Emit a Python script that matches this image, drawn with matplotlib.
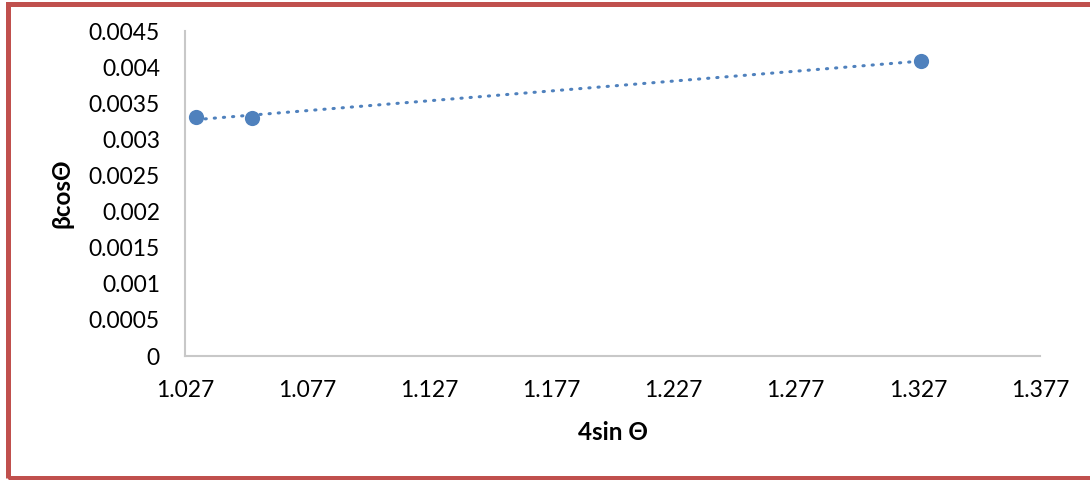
import numpy as np
import matplotlib
matplotlib.use("Agg")
import matplotlib.pyplot as plt
from matplotlib.patches import Rectangle

# Williamson-Hall data
four_sin_theta = [1.0315, 1.0544, 1.3281]
beta_cos_theta = [0.003310, 0.003296, 0.004086]

x_ticks = [1.027, 1.077, 1.127, 1.177, 1.227, 1.277, 1.327, 1.377]
y_ticks = [0, 0.0005, 0.001, 0.0015, 0.002, 0.0025, 0.003, 0.0035, 0.004, 0.0045]
y_tick_labels = ["0", "0.0005", "0.001", "0.0015", "0.002", "0.0025", "0.003", "0.0035", "0.004", "0.0045"]

plt.rcParams['font.family'] = ['Lato', 'DejaVu Sans']

blue = "#4F81BD"
fig = plt.figure(figsize=(10.9, 4.8), dpi=100)
ax = fig.add_axes([0.1697, 0.2583, 0.7844, 0.6771])

x = np.array(four_sin_theta)
y = np.array(beta_cos_theta)

# linear trendline over the data range
m, c = np.polyfit(x, y, 1)
xt = np.array([x.min(), x.max()])
ax.plot(xt, m * xt + c, color=blue, linewidth=2.2, linestyle=(0, (0.4, 2.6)),
        dash_capstyle="round", zorder=2)

ax.scatter(x, y, s=120, color=blue, zorder=3, linewidths=0)

ax.set_xlim(x_ticks[0], x_ticks[-1])
ax.set_ylim(y_ticks[0], y_ticks[-1])
ax.set_xticks(x_ticks)
ax.set_xticklabels([f"{v:.3f}" for v in x_ticks])
ax.set_yticks(y_ticks)
ax.set_yticklabels(y_tick_labels)
ax.tick_params(axis="both", length=0, labelsize=16.5, colors="black")
ax.tick_params(axis="x", pad=17)
ax.tick_params(axis="y", pad=18)

for side in ("top", "right"):
    ax.spines[side].set_visible(False)
for side in ("left", "bottom"):
    ax.spines[side].set_color("#C8C8C8")
    ax.spines[side].set_linewidth(1.5)

ax.set_xlabel("4sin Θ", fontsize=17.5, fontweight="bold", labelpad=15)
ax.set_ylabel("βcosΘ", fontsize=17.5, fontweight="bold", labelpad=11)

# outer frame around the whole chart
fig.patches.append(Rectangle((0.0069, 0.0052), 1.02, 0.9855, transform=fig.transFigure,
                             fill=False, edgecolor="#C0504D", linewidth=3.6))

fig.savefig("out.png", dpi=100)
